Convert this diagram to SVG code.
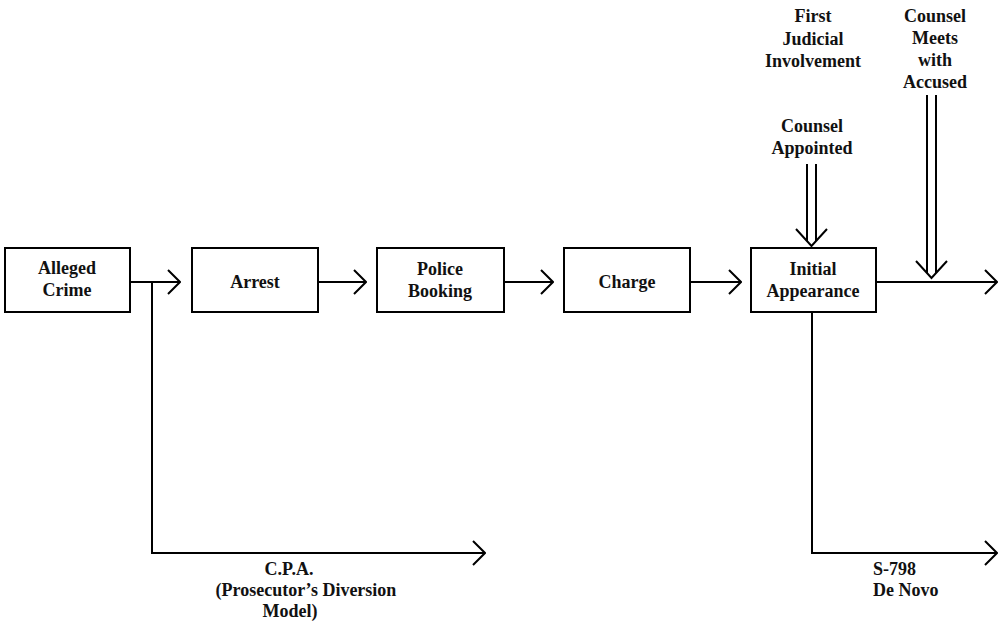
<svg xmlns="http://www.w3.org/2000/svg" width="999" height="628" viewBox="0 0 999 628">
<style>
.box{fill:#fff;stroke:#000;stroke-width:2}
.t{font-family:"Liberation Serif","Times New Roman",serif;font-size:18px;font-weight:bold;fill:#111;text-anchor:middle}
.l{text-anchor:start}
.ln{fill:none;stroke:#000;stroke-width:2}
</style>
<defs>
<marker id="ah" viewBox="0 0 14 26" refX="13" refY="13" markerWidth="14" markerHeight="26" markerUnits="userSpaceOnUse" orient="auto">
<path d="M1,1 L13,13 L1,25" fill="none" stroke="#000" stroke-width="2"/>
</marker>
</defs>
<rect width="999" height="628" fill="#fff"/>
<g id="connectors">
<line class="ln" x1="130" y1="282" x2="180" y2="282" marker-end="url(#ah)"/>
<line class="ln" x1="318" y1="282" x2="366" y2="282" marker-end="url(#ah)"/>
<line class="ln" x1="504" y1="282" x2="553" y2="282" marker-end="url(#ah)"/>
<line class="ln" x1="690" y1="282" x2="741" y2="282" marker-end="url(#ah)"/>
<line class="ln" x1="876" y1="282" x2="997" y2="282" marker-end="url(#ah)"/>
<polyline class="ln" points="152,282 152,553 485,553" marker-end="url(#ah)"/>
<polyline class="ln" points="812,312 812,553 997,553" marker-end="url(#ah)"/>
<line class="ln" x1="807" y1="164" x2="807" y2="241"/>
<line class="ln" x1="816" y1="164" x2="816" y2="241"/>
<path class="ln" d="M796,229 L811.5,246 L827,229"/>
<line class="ln" x1="927" y1="95" x2="927" y2="273"/>
<line class="ln" x1="936" y1="95" x2="936" y2="273"/>
<path class="ln" d="M916,261 L931.5,278 L947,261"/>
</g>
<g id="alleged-crime">
<rect class="box" x="5" y="248" width="125" height="64"/>
<text class="t" x="67" y="274">Alleged</text>
<text class="t" x="67" y="296">Crime</text>
</g>
<g id="arrest">
<rect class="box" x="192" y="248" width="126" height="64"/>
<text class="t" x="255" y="288">Arrest</text>
</g>
<g id="police-booking">
<rect class="box" x="377" y="248" width="127" height="64"/>
<text class="t" x="440" y="275">Police</text>
<text class="t" x="440" y="297">Booking</text>
</g>
<g id="charge">
<rect class="box" x="564" y="248" width="126" height="64"/>
<text class="t" x="627" y="288">Charge</text>
</g>
<g id="initial-appearance">
<rect class="box" x="751" y="248" width="125" height="64"/>
<text class="t" x="813" y="275">Initial</text>
<text class="t" x="813" y="297">Appearance</text>
</g>
<g id="first-judicial">
<text class="t" x="813" y="22">First</text>
<text class="t" x="813" y="45">Judicial</text>
<text class="t" x="813" y="67">Involvement</text>
</g>
<g id="counsel-meets">
<text class="t" x="935" y="22">Counsel</text>
<text class="t" x="935" y="44">Meets</text>
<text class="t" x="935" y="66">with</text>
<text class="t" x="935" y="88">Accused</text>
</g>
<g id="counsel-appointed">
<text class="t" x="812" y="132">Counsel</text>
<text class="t" x="812" y="154">Appointed</text>
</g>
<g id="cpa">
<text class="t" x="289" y="575">C.P.A.</text>
<text class="t" x="306" y="596">(Prosecutor’s Diversion</text>
<text class="t" x="290" y="617">Model)</text>
</g>
<g id="s798">
<text class="t l" x="873" y="575">S-798</text>
<text class="t l" x="873" y="596">De Novo</text>
</g>
</svg>
